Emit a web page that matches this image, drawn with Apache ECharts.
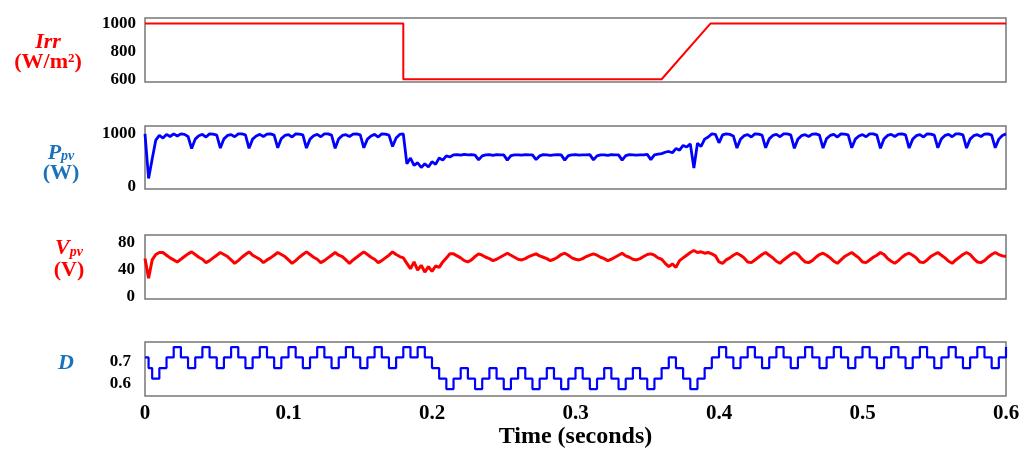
<!DOCTYPE html>
<html>
<head>
<meta charset="utf-8">
<script src="https://cdn.jsdelivr.net/npm/echarts@6/dist/echarts.min.js"></script>
<style>
  html, body { margin: 0; padding: 0; background: #fff; }
  #chart { width: 1030px; height: 450px; }
</style>
</head>
<body>
<div id="chart"></div>
<script>
// irradiance profile (W/m2)
var irrTime = [0, 0.18, 0.18, 0.36, 0.394, 0.6];
var irrValue = [1000, 1000, 600, 600, 1000, 1000];

// Ppv and Vpv every 2.5 ms
var sampleStep = 0.0025;
var ppvValue = [
  1000, 150, 520, 880, 970, 920, 990, 950, 1000, 960, 1000, 990, 950,
  720, 900, 965, 990, 940, 1000, 995, 975,
  730, 905, 970, 985, 945, 1000, 1000, 980,
  725, 900, 960, 990, 950, 995, 1000, 975,
  735, 910, 970, 985, 940, 1000, 995, 980,
  730, 900, 965, 990, 945, 1000, 1000, 975,
  725, 905, 970, 985, 950, 995, 1000, 980,
  735, 900, 960, 990, 940, 1000, 995, 975,
  760, 920, 990, 1000,
  430, 540, 400, 450, 360, 430, 370, 470, 420, 540, 500, 580, 560, 600,
  605, 595, 610, 600, 605, 595,
  505, 580, 600, 605, 590, 605, 600, 600,
  500, 585, 600, 600, 595, 605, 600, 600,
  510, 580, 605, 600, 590, 600, 605, 600,
  500, 585, 600, 605, 595, 600, 600, 605,
  505, 580, 600, 600, 590, 605, 600, 600,
  500, 585, 605, 600, 595, 600, 600, 610,
  510,
  600, 615, 625, 650, 665, 640, 720, 690, 780, 750, 810, 350,
  820, 760, 900, 940, 1000, 990, 830, 980, 1000, 990, 960,
  730, 900, 965, 985, 940, 1000, 995, 975,
  735, 905, 970, 990, 945, 1000, 1000, 980,
  725, 900, 965, 985, 950, 995, 1000, 975,
  730, 910, 970, 990, 940, 1000, 995, 980,
  735, 900, 960, 985, 945, 1000, 1000, 975,
  725, 905, 970, 990, 950, 995, 1000, 980,
  730, 900, 965, 985, 940, 1000, 995, 975,
  735, 905, 970, 990, 945, 1000, 1000, 980,
  730, 900, 965, 985, 950, 995, 1000, 975,
  735, 900, 970, 1000
];
var vpvValue = [
  57, 28, 55, 63, 66, 66, 62, 58, 55, 52, 56, 60, 64,
  67, 63, 59, 56, 51, 54, 58, 62,
  66, 63, 60, 55, 50, 54, 59, 63,
  67, 62, 59, 56, 51, 55, 58, 62,
  66, 63, 60, 55, 50, 54, 59, 63,
  67, 63, 59, 56, 51, 54, 58, 62,
  66, 62, 60, 55, 50, 55, 59, 63,
  67, 63, 59, 56, 51, 54, 58, 62,
  67, 63, 60, 58,
  50, 42, 52, 40, 47, 37, 45, 38, 46, 44, 52, 58, 64, 64,
  61, 58, 54, 52, 55, 60,
  64, 62, 59, 57, 54, 56, 59, 62,
  65, 62, 59, 56, 55, 57, 60, 62,
  64, 61, 59, 57, 54, 56, 59, 63,
  65, 62, 58, 56, 55, 57, 60, 62,
  64, 62, 59, 57, 54, 56, 59, 62,
  65, 61, 59, 56, 55, 57, 60, 63,
  64,
  62, 58, 56, 50, 45, 49, 44, 54, 58, 62, 66, 69,
  66, 67, 65, 66, 64, 61, 52, 50, 55, 58, 62,
  65, 62, 58, 52, 51, 55, 59, 63,
  66, 62, 58, 53, 50, 55, 59, 63,
  66, 63, 57, 52, 51, 54, 59, 63,
  65, 62, 58, 53, 50, 55, 60, 63,
  66, 62, 58, 52, 51, 55, 59, 62,
  66, 63, 57, 53, 50, 54, 59, 63,
  65, 62, 58, 52, 51, 55, 60, 63,
  66, 62, 58, 53, 50, 55, 59, 63,
  66, 63, 57, 52, 51, 54, 59, 63,
  66, 63, 61, 60
];

// duty cycle: first two points, then one value per 5 ms step
var dStartTime = [0, 0.0025];
var dStartValue = [0.72, 0.672];
var dStep = 0.005;
var dValue = [
  0.624, 0.672, 0.72,
  0.767, 0.72, 0.672, 0.72, 0.767, 0.72, 0.672, 0.72,
  0.767, 0.72, 0.672, 0.72, 0.767, 0.72, 0.672, 0.72,
  0.767, 0.72, 0.672, 0.72, 0.767, 0.72, 0.672, 0.72,
  0.767, 0.72, 0.672, 0.72, 0.767, 0.72, 0.672, 0.72,
  0.767, 0.72, 0.767, 0.72, 0.672, 0.624,
  0.577, 0.624, 0.672, 0.624, 0.577, 0.624, 0.672, 0.624,
  0.577, 0.624, 0.672, 0.624, 0.577, 0.624, 0.672, 0.624,
  0.577, 0.624, 0.672, 0.624, 0.577, 0.624, 0.672, 0.624,
  0.577, 0.624, 0.672, 0.624,
  0.577, 0.624, 0.672, 0.72, 0.672, 0.624, 0.577, 0.624, 0.672, 0.72,
  0.767, 0.72, 0.672, 0.72, 0.767, 0.72, 0.672, 0.72,
  0.767, 0.72, 0.672, 0.72, 0.767, 0.72, 0.672, 0.72,
  0.767, 0.72, 0.672, 0.72, 0.767, 0.72, 0.672, 0.72,
  0.767, 0.72, 0.672, 0.72, 0.767, 0.72, 0.672, 0.72,
  0.767, 0.72, 0.672, 0.72, 0.767, 0.72, 0.672, 0.72,
  0.767
];

var irrTicks = [600, 800, 1000];
var ppvTicks = [0, 1000];
var vpvTicks = [0, 40, 80];
var dTicks = [0.6, 0.7];

(function() {
  var serif = '"Liberation Serif", "Times New Roman", serif';
  var red = '#ff0000';
  var labelBlue = '#1a72bb';
  var lineBlue = '#0000ff';
  var frame = '#777777';

  var irrData = irrTime.map(function(t, i) { return [t, irrValue[i]]; });
  var ppvData = ppvValue.map(function(v, i) { return [i * sampleStep, v]; });
  var vpvData = vpvValue.map(function(v, i) { return [i * sampleStep, v]; });
  var dData = dStartTime.map(function(t, i) { return [t, dStartValue[i]]; });
  dValue.forEach(function(v, i) { dData.push([(i + 1) * dStep, v]); });

  var grids = [
    { top: 18, height: 64 },
    { top: 126, height: 63 },
    { top: 235, height: 64 },
    { top: 342, height: 55 }
  ].map(function(g) {
    return { left: 145, right: 24, top: g.top, height: g.height, show: true,
      borderColor: frame, borderWidth: 1.5, backgroundColor: 'transparent' };
  });

  var xAxes = [0, 1, 2, 3].map(function(i) {
    var last = i === 3;
    return {
      type: 'value', gridIndex: i, min: 0, max: 0.6, interval: 0.1,
      axisLine: { show: false }, axisTick: { show: false }, splitLine: { show: false },
      axisLabel: { show: last, color: '#000', fontFamily: serif, fontWeight: 'bold', fontSize: 21, margin: 7 },
      name: last ? 'Time (seconds)' : '',
      nameLocation: 'middle', nameGap: 25,
      nameTextStyle: { color: '#000', fontFamily: serif, fontWeight: 'bold', fontSize: 24 }
    };
  });

  function yAxis(i, min, max, ticks, margin) {
    return {
      type: 'value', gridIndex: i, min: min, max: max,
      axisLine: { show: false }, axisTick: { show: false }, splitLine: { show: false },
      axisLabel: {
        customValues: ticks, color: '#000', fontFamily: serif, fontWeight: 'bold', fontSize: 17,
        margin: margin, formatter: function(v) { return String(v); }
      }
    };
  }

  function line(i, data, color, width, step) {
    return {
      type: 'line', xAxisIndex: i, yAxisIndex: i, data: data, step: step || false,
      showSymbol: false, symbol: 'none', lineStyle: { color: color, width: width }
    };
  }

  function label(x, y, text, color, lh) {
    var base = { fontFamily: serif, fontWeight: 'bold', fontSize: 22, fill: color, lineHeight: lh };
    return {
      type: 'text', x: x, y: y,
      style: {
        text: text, align: 'center', verticalAlign: 'middle', fill: color,
        rich: {
          it: Object.assign({}, base, { fontStyle: 'italic' }),
          n: base,
          sup: Object.assign({}, base, { fontSize: 13, verticalAlign: 'top' }),
          sub: Object.assign({}, base, { fontSize: 14, fontStyle: 'italic', verticalAlign: 'bottom' })
        }
      }
    };
  }

  var chart = echarts.init(document.getElementById('chart'), null, { renderer: 'canvas' });
  chart.setOption({
    animation: false,
    backgroundColor: '#fff',
    grid: grids,
    xAxis: xAxes,
    yAxis: [
      yAxis(0, 580, 1040, irrTicks, 9),
      yAxis(1, -50, 1150, ppvTicks, 9),
      yAxis(2, -3, 92, vpvTicks, 10),
      yAxis(3, 0.545, 0.79, dTicks, 14)
    ],
    series: [
      line(0, irrData, red, 2),
      line(1, ppvData, lineBlue, 2.8),
      line(2, vpvData, red, 3),
      line(3, dData, lineBlue, 2.2, 'end')
    ],
    graphic: [
      label(48, 52, '{it|Irr}\n{n|(W/m}{sup|2}{n|)}', red, 20),
      label(61, 163, '{it|P}{sub|pv}\n{n|(W)}', labelBlue, 20),
      label(69, 259, '{it|V}{sub|pv}\n{n|(V)}', red, 22),
      label(66, 363, '{it|D}', labelBlue, 22)
    ]
  });
})();
</script>
</body>
</html>
